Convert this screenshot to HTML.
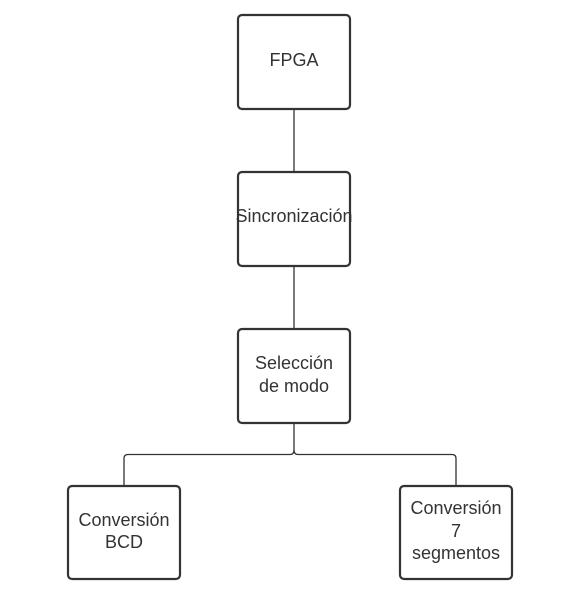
<!DOCTYPE html>
<html><head><meta charset="utf-8"><style>
html,body{margin:0;padding:0;background:#fff;}
svg{display:block;}
text{font-family:"Liberation Sans",sans-serif;font-size:18px;fill:#333;text-anchor:middle;}
</style></head><body>
<svg width="577" height="597" viewBox="0 0 577 597">
<g fill="none" stroke="#333" stroke-width="1.3">
<line x1="294" y1="109" x2="294" y2="172"/>
<line x1="294" y1="266" x2="294" y2="329"/>
<path d="M294 423 V450 Q294 454.5 290 454.5 H128 Q124 454.5 124 458.5 V486"/>
<path d="M294 450 Q294 454.5 298 454.5 H452 Q456 454.5 456 458.5 V486"/>
</g>
<g fill="#fff" stroke="#333" stroke-width="2.2">
<rect x="238" y="15" width="112" height="94" rx="4"/>
<rect x="238" y="172" width="112" height="94" rx="4"/>
<rect x="238" y="329" width="112" height="94" rx="4"/>
<rect x="68" y="486" width="112" height="93" rx="4"/>
<rect x="400" y="486" width="112" height="93" rx="4"/>
</g>
<text x="294" y="66">FPGA</text>
<text x="294" y="222">Sincronización</text>
<text x="294" y="369">Selección</text>
<text x="294" y="392">de modo</text>
<text x="124" y="526">Conversión</text>
<text x="124" y="548">BCD</text>
<text x="456" y="514">Conversión</text>
<text x="456" y="537">7</text>
<text x="456" y="559">segmentos</text>
</svg>
</body></html>
